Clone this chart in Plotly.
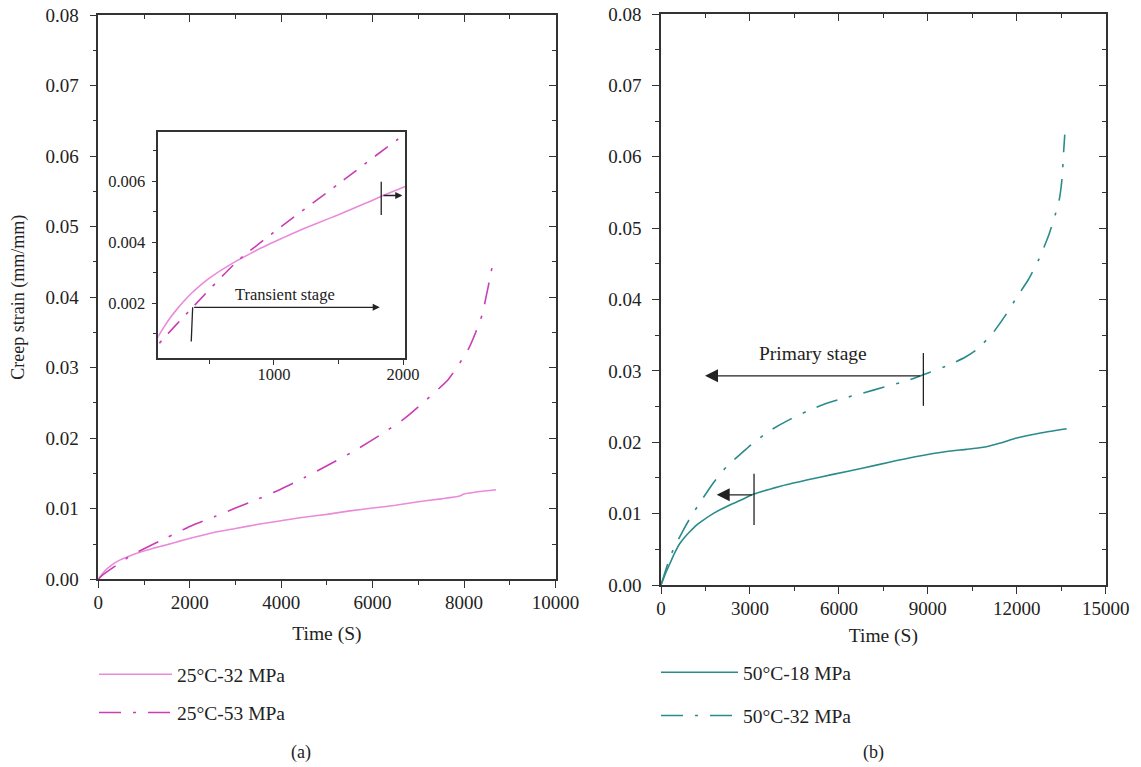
import plotly.graph_objects as go

W, H = 1141, 767
FONT = "Liberation Serif"

# ---- creep data, panel (a): 25 °C ----
t_25_32 = [0, 30, 60, 105, 150, 196, 250, 299, 360, 428, 490, 557, 640, 712, 814, 900, 1000,
           1100, 1201, 1350, 1500, 1600, 1717, 1845, 2013, 2500, 3000, 3500, 4000, 4500,
           5000, 5500, 6000, 6500, 7000, 7500, 7900, 8000, 8300, 8700]
s_25_32 = [0, 0.00028, 0.00052, 0.00092, 0.00123, 0.00152, 0.00181, 0.00205, 0.00232,
           0.00258, 0.00279, 0.00299, 0.00321, 0.00339, 0.00362, 0.00381, 0.00401, 0.00420,
           0.00439, 0.00465, 0.00490, 0.00508, 0.00529, 0.00553, 0.00582, 0.0066, 0.0072,
           0.0078, 0.0083, 0.0088, 0.0092, 0.0097, 0.0101, 0.0105, 0.0110, 0.0114, 0.0118,
           0.0121, 0.0124, 0.0127]

t_25_53 = [0, 105, 371, 712, 1000, 1500, 2013, 2550, 3000, 3500, 4000, 4500, 5000, 5600,
           6200, 6700, 7150, 7650, 7900, 8100, 8260, 8400, 8480, 8560, 8640]
s_25_53 = [0, 0.00065, 0.00187, 0.00336, 0.00433, 0.00591, 0.00753, 0.0089, 0.0101, 0.0114,
           0.0128, 0.0144, 0.0161, 0.0182, 0.0206, 0.0228, 0.0253, 0.0283, 0.0306, 0.0327,
           0.0351, 0.0376, 0.0400, 0.0425, 0.0452]

# ---- creep data, panel (b): 50 °C ----
t_50_18 = [0, 150, 304, 450, 641, 800, 978, 1200, 1428, 1800, 2215, 2700, 3115, 4000, 4914,
           5800, 6825, 7700, 8625, 9636, 10300, 10873, 11450, 11997, 12800, 13684]
s_50_18 = [0, 0.0016, 0.00304, 0.0044, 0.00585, 0.0067, 0.0075, 0.0084, 0.0091, 0.0101,
           0.0110, 0.0119, 0.0127, 0.0138, 0.0147, 0.0155, 0.0164, 0.0172, 0.0180, 0.0187,
           0.0190, 0.0193, 0.0199, 0.0206, 0.0213, 0.0219]

t_50_32 = [0, 330, 753, 1000, 1371, 1800, 2215, 2700, 3115, 3700, 4352, 4900, 5476, 6100,
           6825, 7500, 8287, 9075, 9700, 10256, 10627, 11157, 11606, 11999, 12393, 12753,
           13068, 13293, 13439, 13529, 13574, 13619]
s_50_32 = [0, 0.0042, 0.0077, 0.0095, 0.0119, 0.0145, 0.0166, 0.0184, 0.0199, 0.0217, 0.0232,
           0.0243, 0.0253, 0.0261, 0.0269, 0.0277, 0.0286, 0.0298, 0.0308, 0.0319, 0.0329,
           0.0351, 0.0377, 0.0403, 0.0428, 0.0457, 0.0489, 0.0518, 0.0541, 0.0570, 0.0602,
           0.0631]

names = ["25°C-32 MPa", "25°C-53 MPa", "50°C-18 MPa", "50°C-32 MPa"]

PINK = "#E98BDA"
MAGENTA = "#C93DB5"
TEAL = "#2B8B8B"
DASHDOT = "22px,12px,3px,12px"
AX = "#333333"
TXT = "#222222"


def px_x(p):
    return p / W


def px_y(p):
    return 1 - p / H


def axis(**kw):
    base = dict(showgrid=False, zeroline=False, showline=True, linecolor=AX, linewidth=1.5,
                tickcolor=AX, tickwidth=1.2, ticklen=7,
                tickfont=dict(family=FONT, size=19, color=TXT),
                automargin=False, fixedrange=True)
    base.update(kw)
    return base


def minor(dtick, side="outside"):
    return dict(dtick=dtick, ticks=side, ticklen=4, tickcolor=AX, tickwidth=1.1)


fig = go.Figure()

# panel (a)
fig.add_trace(go.Scatter(x=t_25_32, y=s_25_32, mode="lines", name=names[0],
                         line=dict(color=PINK, width=1.6, shape="spline", smoothing=0.6),
                         xaxis="x", yaxis="y", legend="legend", legendgroup="a1"))
fig.add_trace(go.Scatter(x=t_25_53, y=s_25_53, mode="lines", name=names[1],
                         line=dict(color=MAGENTA, width=1.6, dash=DASHDOT, shape="spline",
                                   smoothing=0.6),
                         xaxis="x", yaxis="y", legend="legend", legendgroup="a2"))
# inset of panel (a)
fig.add_trace(go.Scatter(x=t_25_32, y=s_25_32, mode="lines", showlegend=False,
                         line=dict(color=PINK, width=1.6, shape="spline", smoothing=0.6),
                         xaxis="x3", yaxis="y3"))
fig.add_trace(go.Scatter(x=t_25_53, y=s_25_53, mode="lines", showlegend=False,
                         line=dict(color=MAGENTA, width=1.6, dash="16px,10px,3px,10px",
                                   shape="spline", smoothing=0.6),
                         xaxis="x3", yaxis="y3"))
# panel (b)
fig.add_trace(go.Scatter(x=t_50_18, y=s_50_18, mode="lines", name=names[2],
                         line=dict(color=TEAL, width=1.6, shape="spline", smoothing=0.5),
                         xaxis="x2", yaxis="y2", legend="legend2", legendgroup="b1"))
fig.add_trace(go.Scatter(x=t_50_32, y=s_50_32, mode="lines", name=names[3],
                         line=dict(color=TEAL, width=1.6, dash=DASHDOT, shape="spline",
                                   smoothing=0.5),
                         xaxis="x2", yaxis="y2", legend="legend2", legendgroup="b2"))
# empty traces that bring up the mirrored inner-tick axes (top/right)
fig.add_trace(go.Scatter(x=[], y=[], xaxis="x4", yaxis="y4", showlegend=False,
                         hoverinfo="skip"))
fig.add_trace(go.Scatter(x=[], y=[], xaxis="x5", yaxis="y5", showlegend=False,
                         hoverinfo="skip"))

dom_a_x = [px_x(98.3), px_x(555.5)]
dom_a_y = [px_y(579.3), px_y(15)]
dom_b_x = [px_x(661), px_x(1105.7)]
dom_b_y = [px_y(585), px_y(14)]
dom_i_x = [px_x(158.3), px_x(405)]
dom_i_y = [px_y(358.3), px_y(132.3)]

rng_a_x = [0, 10000]
rng_b_x = [0, 15000]
rng_y = [0, 0.08]
rng_i_x = [105, 2015]
rng_i_y = [0.0002, 0.0076]

inner = dict(ticks="inside", showticklabels=False, showline=False)
small_font = dict(family=FONT, size=16.5, color=TXT)

fig.update_layout(
    width=W, height=H, margin=dict(l=0, r=0, t=0, b=0, autoexpand=False),
    paper_bgcolor="white", plot_bgcolor="rgba(0,0,0,0)",
    font=dict(family=FONT, color=TXT),
    xaxis=axis(domain=dom_a_x, anchor="y", range=rng_a_x, dtick=2000, tick0=0,
               tickformat="d", ticks="outside", mirror=True, ticklabelstandoff=-2,
               minor=minor(1000),
               title=dict(text="Time (S)", font=dict(family=FONT, size=19.5), standoff=15)),
    yaxis=axis(domain=dom_a_y, anchor="x", range=rng_y, dtick=0.01, tick0=0,
               tickformat=".2f", ticks="outside", mirror=True, ticklabelstandoff=7,
               minor=minor(0.005),
               title=dict(text="Creep strain (mm/mm)", font=dict(family=FONT, size=18),
                          standoff=16)),
    xaxis4=axis(**inner, domain=dom_a_x, overlaying="x", anchor="y", side="top",
                range=rng_a_x, dtick=2000, tick0=0, minor=minor(1000, "inside")),
    yaxis4=axis(**inner, domain=dom_a_y, overlaying="y", anchor="x", side="right",
                range=rng_y, dtick=0.01, tick0=0, minor=minor(0.005, "inside")),
    xaxis2=axis(domain=dom_b_x, anchor="y2", range=rng_b_x, dtick=3000, tick0=0,
                tickformat="d", ticks="outside", mirror=True, ticklabelstandoff=-2,
                minor=minor(1500),
                title=dict(text="Time (S)", font=dict(family=FONT, size=19.5), standoff=11)),
    yaxis2=axis(domain=dom_b_y, anchor="x2", range=rng_y, dtick=0.01, tick0=0,
                tickformat=".2f", ticks="outside", mirror=True, ticklabelstandoff=7,
                minor=minor(0.005)),
    xaxis5=axis(**inner, domain=dom_b_x, overlaying="x2", anchor="y2", side="top",
                range=rng_b_x, dtick=3000, tick0=0, minor=minor(1500, "inside")),
    yaxis5=axis(**inner, domain=dom_b_y, overlaying="y2", anchor="x2", side="right",
                range=rng_y, dtick=0.01, tick0=0, minor=minor(0.005, "inside")),
    xaxis3=axis(domain=dom_i_x, anchor="y3", range=rng_i_x, dtick=1000, tick0=0,
                tickformat="d", ticks="outside", mirror=True, ticklen=5, ticklabelstandoff=-5,
                tickfont=small_font, minor=minor(500)),
    yaxis3=axis(domain=dom_i_y, anchor="x3", range=rng_i_y, dtick=0.002, tick0=0,
                tickformat=".3f", ticks="outside", mirror=True, ticklen=5, ticklabelstandoff=3,
                tickfont=small_font, minor=minor(0.001)),
    legend=dict(x=px_x(94), y=px_y(655), xanchor="left", yanchor="top",
                bgcolor="rgba(0,0,0,0)", itemwidth=73, tracegroupgap=10,
                font=dict(family=FONT, size=19.5, color=TXT)),
    legend2=dict(x=px_x(656), y=px_y(653), xanchor="left", yanchor="top",
                 bgcolor="rgba(0,0,0,0)", itemwidth=77, tracegroupgap=15,
                 font=dict(family=FONT, size=19.5, color=TXT)),
)

# stage markers and arrows
line_style = dict(color=TXT, width=1.3)
shapes = [
    dict(type="line", xref="x3", yref="y3", x0=371, y0=0.00187, x1=360, y1=0.00075,
         line=line_style),
    dict(type="line", xref="x3", yref="y3", x0=1831, y0=0.00598, x1=1831, y1=0.00489,
         line=line_style),
    dict(type="line", xref="x2", yref="y2", x0=8850, y0=0.0325, x1=8850, y1=0.0251,
         line=line_style),
    dict(type="line", xref="x2", yref="y2", x0=3138, y0=0.0156, x1=3138, y1=0.0084,
         line=line_style),
]

arrow_common = dict(text="", showarrow=True, arrowcolor=TXT, arrowwidth=1.3,
                    arrowhead=2, standoff=0, startstandoff=0)
annotations = [
    dict(arrow_common, xref="x3", yref="y3", axref="x3", ayref="y3",
         x=1820, y=0.00187, ax=371, ay=0.00187, arrowsize=1.1),
    dict(arrow_common, xref="x3", yref="y3", axref="x3", ayref="y3",
         x=1995, y=0.00553, ax=1837, ay=0.00553, arrowsize=1.1),
    dict(arrow_common, xref="x2", yref="y2", axref="x2", ayref="y2",
         x=1484, y=0.0293, ax=8795, ay=0.0293, arrowsize=2.0),
    dict(arrow_common, xref="x2", yref="y2", axref="x2", ayref="y2",
         x=1879, y=0.01264, ax=3115, ay=0.01264, arrowsize=2.0),
    dict(text="Transient stage", xref="x3", yref="y3", x=1087, y=0.00228, showarrow=False,
         font=dict(family=FONT, size=16.5, color=TXT)),
    dict(text="Primary stage", xref="x2", yref="y2", x=5140, y=0.0325, showarrow=False,
         font=dict(family=FONT, size=19.5, color=TXT)),
    dict(text="(a)", xref="paper", yref="paper", x=px_x(301), y=px_y(752), showarrow=False,
         xanchor="center", yanchor="middle", font=dict(family=FONT, size=18, color=TXT)),
    dict(text="(b)", xref="paper", yref="paper", x=px_x(873), y=px_y(752), showarrow=False,
         xanchor="center", yanchor="middle", font=dict(family=FONT, size=18, color=TXT)),
]

fig.update_layout(shapes=shapes, annotations=annotations)

fig.write_html("out.html")
